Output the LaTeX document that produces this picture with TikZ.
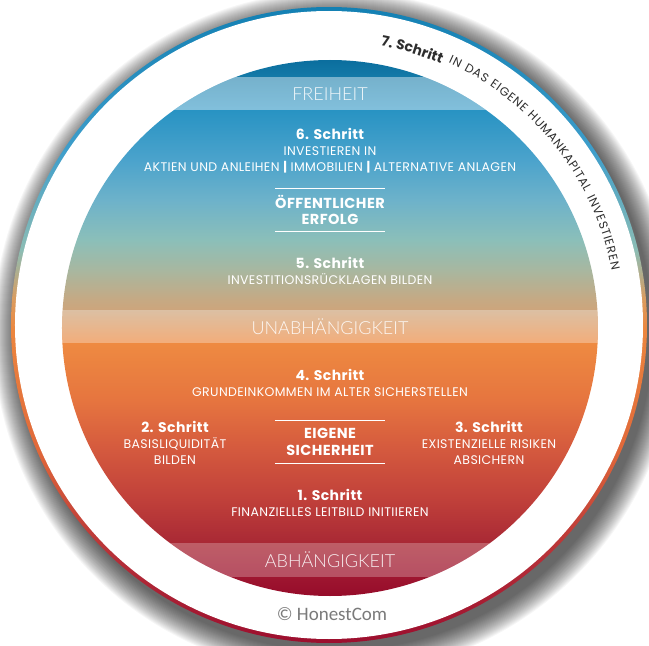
\documentclass[tikz,border=0pt]{standalone}
\usepackage{fontspec}
\setmainfont{Poppins}[LetterSpace=3]
\newfontfamily\bandfont{Lato}[UprightFont=* Light]
\newfontfamily\copyfont{Carlito}
\usetikzlibrary{decorations.text}

% colours of the inner disc, top to bottom
\definecolor{skyA}{HTML}{0B6E9E}
\definecolor{skyB}{HTML}{137AA8}
\definecolor{skyC}{HTML}{2893C3}
\definecolor{skyD}{HTML}{4BA3CC}
\definecolor{skyE}{HTML}{6DB2CA}
\definecolor{skyF}{HTML}{8BBFB9}
\definecolor{skyG}{HTML}{A8B7A0}
\definecolor{skyH}{HTML}{C6A983}
\definecolor{skyI}{HTML}{CDA57C}
\definecolor{skyJ}{HTML}{EE8A41}
\definecolor{skyK}{HTML}{E6753F}
\definecolor{skyL}{HTML}{D4593E}
\definecolor{skyM}{HTML}{C0403A}
\definecolor{skyN}{HTML}{AA2A35}
\definecolor{skyO}{HTML}{9E1530}
\definecolor{skyP}{HTML}{960C2A}
% colours of the outer rim
\definecolor{rimA}{HTML}{1380B3}
\definecolor{rimB}{HTML}{3E9ECB}
\definecolor{rimC}{HTML}{8CBDB5}
\definecolor{rimD}{HTML}{DC9C5E}
\definecolor{rimE}{HTML}{EC863E}
\definecolor{rimF}{HTML}{E0683A}
\definecolor{rimG}{HTML}{B42E38}
\definecolor{rimH}{HTML}{9C0E2E}
\definecolor{arcgray}{HTML}{2E2E2E}
\definecolor{copygray}{HTML}{7A7A7A}

\pgfdeclareverticalshading{innersky}{100bp}{
  color(0bp)=(skyP); color(25bp)=(skyP); color(26.77bp)=(skyO);
  color(30.22bp)=(skyN); color(33.96bp)=(skyM); color(38.62bp)=(skyL);
  color(43.28bp)=(skyK); color(48.60bp)=(skyJ); color(51.68bp)=(skyI);
  color(52.61bp)=(skyH); color(55.41bp)=(skyG); color(58.21bp)=(skyF);
  color(61.94bp)=(skyE); color(65.67bp)=(skyD); color(70.34bp)=(skyC);
  color(73.41bp)=(skyB); color(75bp)=(skyA); color(100bp)=(skyA)}
\pgfdeclareverticalshading{outerrim}{100bp}{
  color(0bp)=(rimH); color(25bp)=(rimH); color(31.53bp)=(rimG);
  color(40.17bp)=(rimF); color(49.61bp)=(rimE); color(51.97bp)=(rimD);
  color(55.90bp)=(rimC); color(63.76bp)=(rimB); color(75bp)=(rimA);
  color(100bp)=(rimA)}

\newcommand{\schrittkopf}[1]{{\bfseries\fontsize{14}{16}\selectfont #1}}

\begin{document}
\begin{tikzpicture}[x=1pt, y=1pt,
    schritt/.style={text=white, align=center, inner sep=0pt, font=\fontsize{12.5}{16}\selectfont},
    goal/.style={text=white, align=center, inner sep=0pt, minimum width=110pt, minimum height=42pt, font=\bfseries\fontsize{14.5}{16.5}\selectfont},
    zone/.style={text=white, text opacity=0.9, inner sep=0pt, font=\bandfont\fontsize{18}{18}\selectfont},
    band/.style={fill=white, fill opacity=0.4},
    rule/.style={white, line width=1pt}]
    \def\rimR{318}
    \def\whiteR{314}
    \def\discR{268}

    \useasboundingbox (-330,-318) rectangle (319,328);

    % Soft shadow under the disc
    \foreach \r in {0,...,24} {
      \fill[black, opacity=0.035] (5,-5) circle (\rimR+\r);
    }

    % Rim, white ring and inner disc
    \shade[shading=outerrim] (-1,3) circle (\rimR);
    \fill[white] (-1,3) circle (\whiteR);
    \shade[shading=innersky] (0,0) circle (\discR);

    % Light bands across the disc
    \begin{scope}
      \clip (0,0) circle (\discR);
      \fill[band, fill opacity=0.42] (-270,251) rectangle (270,218); % Freiheit
      \fill[band, fill opacity=0.3] (-270,18) rectangle (270,-15);   % Unabhaengigkeit
      \fill[band, fill opacity=0.25] (-270,-215) rectangle (270,-249); % Abhaengigkeit
    \end{scope}

    % Band labels
    \node[zone] (freiheit) at (0,234) {FREIHEIT};
    \node[zone] (unabh) at (0,1) {UNABHÄNGIGKEIT};
    \node[zone] (abh) at (0,-232) {ABHÄNGIGKEIT};

    % Steps above the middle band
    \node[schritt] (s6) at (0,177) {\schrittkopf{6. Schritt}\\INVESTIEREN IN\\AKTIEN UND ANLEIHEN {\bfseries|} IMMOBILIEN {\bfseries|} ALTERNATIVE ANLAGEN};
    \node[goal] (erfolg) at (0,118) {ÖFFENTLICHER\\ERFOLG};
    \draw[rule] (erfolg.north west) -- (erfolg.north east);
    \draw[rule] (erfolg.south west) -- (erfolg.south east);
    \node[schritt] (s5) at (0,57) {\schrittkopf{5. Schritt}\\INVESTITIONSRÜCKLAGEN BILDEN};

    % Steps below the middle band
    \node[schritt] (s4) at (0,-55) {\schrittkopf{4. Schritt}\\GRUNDEINKOMMEN IM ALTER SICHERSTELLEN};
    \node[schritt] (s2) at (-155,-115) {\schrittkopf{2. Schritt}\\BASISLIQUIDITÄT\\BILDEN};
    \node[goal] (sicherheit) at (0,-114) {EIGENE\\SICHERHEIT};
    \draw[rule] (sicherheit.north west) -- (sicherheit.north east);
    \draw[rule] (sicherheit.south west) -- (sicherheit.south east);
    \node[schritt] (s3) at (159,-115) {\schrittkopf{3. Schritt}\\EXISTENZIELLE RISIKEN\\ABSICHERN};
    \node[schritt] (s1) at (0,-175) {\schrittkopf{1. Schritt}\\FINANZIELLES LEITBILD INITIIEREN};

    % Seventh step along the white ring
    \path[decorate, decoration={text along path, text color=arcgray,
        text={|\bfseries\fontsize{14}{14}\selectfont|7. Schritt}}]
      (-1,3) ++(79.5:284) arc[start angle=79.5, end angle=55, radius=284];
    \path[decorate, decoration={text along path, text color=arcgray, text align={fit to path},
        text={|\fontsize{12}{12}\selectfont|IN DAS EIGENE HUMANKAPITAL INVESTIEREN}}]
      (-1,3) ++(65.5:288) arc[start angle=65.5, end angle=11, radius=288];

    \node[text=copygray, font=\copyfont\fontsize{19}{19}\selectfont] (copyright) at (2,-286) {© HonestCom};
\end{tikzpicture}
\end{document}
